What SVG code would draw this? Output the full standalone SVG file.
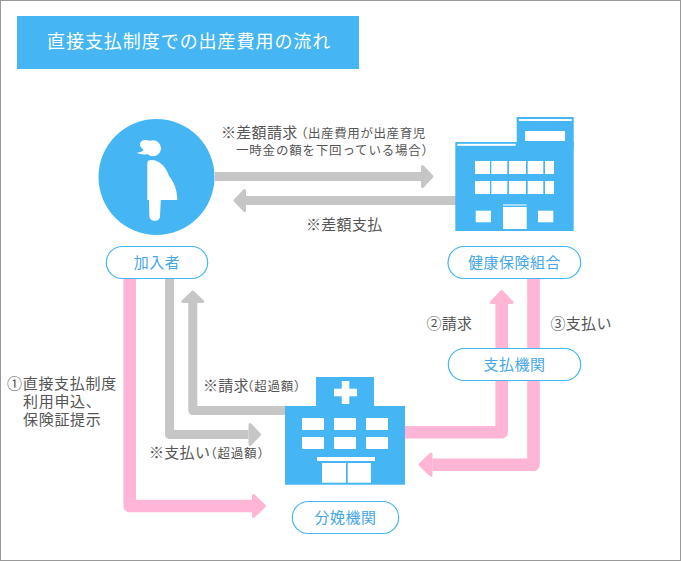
<svg xmlns="http://www.w3.org/2000/svg" width="681" height="561" viewBox="0 0 681 561">
<style>
text{font-family:"Noto Sans CJK JP","Liberation Sans",sans-serif}
.blue{fill:#45b6f3}
.w{fill:#fff}
.pill{fill:#fff;stroke:#45b6f3;stroke-width:1.2}
.pt{fill:#45a7e6;font-size:15px;letter-spacing:.5px;text-anchor:middle}
.lb{fill:#555;font-size:15px;letter-spacing:.3px}
.sm{font-size:12.5px;letter-spacing:.8px}
.g{fill:none;stroke:#c6c6c6;stroke-width:9;stroke-linejoin:round}
.p{fill:none;stroke:#ffb5d5;stroke-width:12.6;stroke-linejoin:round}
</style>
<defs>
<marker id="hg" markerUnits="userSpaceOnUse" markerWidth="16" markerHeight="26" refX="0" refY="12" orient="auto" viewBox="0 0 16 24" overflow="visible"><path d="M1.5 2L11 12L1.5 22Z" fill="#c6c6c6" stroke="#c6c6c6" stroke-width="3" stroke-linejoin="round"/></marker>
<marker id="hp" markerUnits="userSpaceOnUse" markerWidth="16" markerHeight="26" refX="0" refY="13" orient="auto" viewBox="0 0 16 26" overflow="visible"><path d="M1.5 2.5L12.5 13L1.5 23.5Z" fill="#ffb5d5" stroke="#ffb5d5" stroke-width="3" stroke-linejoin="round"/></marker>
</defs>
<rect x=".5" y=".5" width="680" height="560" fill="#fff" stroke="#999"/>
<g id="title"><rect class="blue" x="17" y="16" width="342" height="53"/><text x="47" y="48" fill="#fff" font-size="18" letter-spacing=".95">直接支払制度での出産費用の流れ</text></g>
<g id="connectors">
<path class="g" d="M215 176.5H421" marker-end="url(#hg)"/>
<path class="g" d="M456 200.5H246" marker-end="url(#hg)"/>
<path class="g" d="M169.5 279V434.5H248.5" marker-end="url(#hg)"/>
<path class="g" d="M285 410.5H192.8V303" marker-end="url(#hg)"/>
<path class="p" d="M129.7 279V506H252" marker-end="url(#hp)"/>
<path class="p" d="M405 432.3H501.7V304" marker-end="url(#hp)"/>
<path class="p" d="M533.5 279V464.7H432.5" marker-end="url(#hp)"/>
</g>
<g id="member">
<circle class="blue" cx="156.5" cy="177" r="58"/>
<circle class="w" cx="153" cy="148.300" r="8"/>
<path class="w" d="M150 141C146 139 140 140 140 144.500C140 147.500 143 148.500 143.500 150C142.500 152 139 152.500 136.700 152.800C141 155 147 155 151 153Z"/>
<path class="w" d="M147.300 163C147.300 161 149 160 151 160C160 160 166 167 169 176C174 182 177.300 190 177.300 200H160.800L160 216C160 219.500 157.500 220.800 155 220.800C152 220.800 149.500 219.500 149.400 216L149 200H147.300Z"/>
<rect class="pill" x="106.300" y="246.500" width="101.400" height="32" rx="16"/><text class="pt" x="157" y="267.500">加入者</text>
</g>
<g id="insurer">
<rect class="blue" x="516.700" y="117" width="57" height="30"/><rect class="blue" x="455.300" y="142" width="118.400" height="89"/>
<rect class="w" x="519" y="119" width="52.700" height="2"/><rect class="w" x="457.300" y="143.800" width="58.400" height="2"/><rect class="w" x="525" y="131" width="40" height="10"/>
<g class="w">
<rect x="475" y="161" width="15" height="13"/><rect x="491.300" y="161" width="16" height="13"/><rect x="509" y="161" width="17" height="13"/><rect x="527.700" y="161" width="15.600" height="13"/><rect x="545" y="161" width="9" height="13"/>
<rect x="475" y="181" width="15" height="13"/><rect x="491.300" y="181" width="16" height="13"/><rect x="509" y="181" width="17" height="13"/><rect x="527.700" y="181" width="15.600" height="13"/><rect x="545" y="181" width="9" height="13"/>
<rect x="475.700" y="210.700" width="15.300" height="11.600"/><rect x="538" y="210.700" width="15.300" height="11.600"/><rect x="503" y="207" width="23.700" height="22"/><rect x="503" y="204.500" width="23.700" height="1"/>
</g>
<rect class="pill" x="448" y="246.500" width="132.700" height="32" rx="16"/><text class="pt" x="514.500" y="267.500">健康保険組合</text>
</g>
<g id="payer"><rect class="pill" x="448.300" y="348.500" width="132.400" height="32" rx="16"/><text class="pt" x="514.500" y="370">支払機関</text></g>
<g id="hospital">
<rect class="blue" x="316" y="377" width="58" height="30"/><rect class="blue" x="285" y="406" width="120" height="78.700"/>
<g class="w">
<rect x="341.700" y="381" width="7.600" height="23"/><rect x="334" y="388.700" width="23" height="7.600"/>
<rect x="302" y="418" width="22" height="12"/><rect x="334" y="418" width="22" height="12"/><rect x="366" y="418" width="22" height="12"/>
<rect x="302" y="437" width="22" height="12"/><rect x="334" y="437" width="22" height="12"/><rect x="366" y="437" width="22" height="12"/>
<rect x="317" y="457" width="58" height="4"/><rect x="322" y="463" width="24" height="19.700"/><rect x="347.700" y="463" width="23.300" height="19.700"/>
</g>
<rect class="pill" x="292.300" y="501.500" width="106.400" height="32" rx="16"/><text class="pt" x="345.500" y="523">分娩機関</text>
</g>
<g id="labels">
<text class="lb" x="221" y="138">※差額請求<tspan style="font-size:12.500px;letter-spacing:.6px" dx="-2.600">（出産費用が出産育児</tspan></text>
<text class="lb sm" x="236" y="155">一時金の額を下回っている場合）</text>
<text class="lb" x="306" y="230">※差額支払</text>
<text class="lb" x="426.500" y="329">②請求</text>
<text class="lb" x="550.500" y="329" letter-spacing=".5">③支払い</text>
<text class="lb" x="7" y="389" style="letter-spacing:.7px">①直接支払制度</text>
<text class="lb" x="23" y="407" style="letter-spacing:.7px">利用申込、</text>
<text class="lb" x="23" y="425" style="letter-spacing:.7px">保険証提示</text>
<text class="lb" x="203" y="391">※請求<tspan class="sm" dx="-8">（超過額）</tspan></text>
<text class="lb" x="149" y="458">※支払い<tspan class="sm" dx="-6">（超過額）</tspan></text>
</g>
</svg>
